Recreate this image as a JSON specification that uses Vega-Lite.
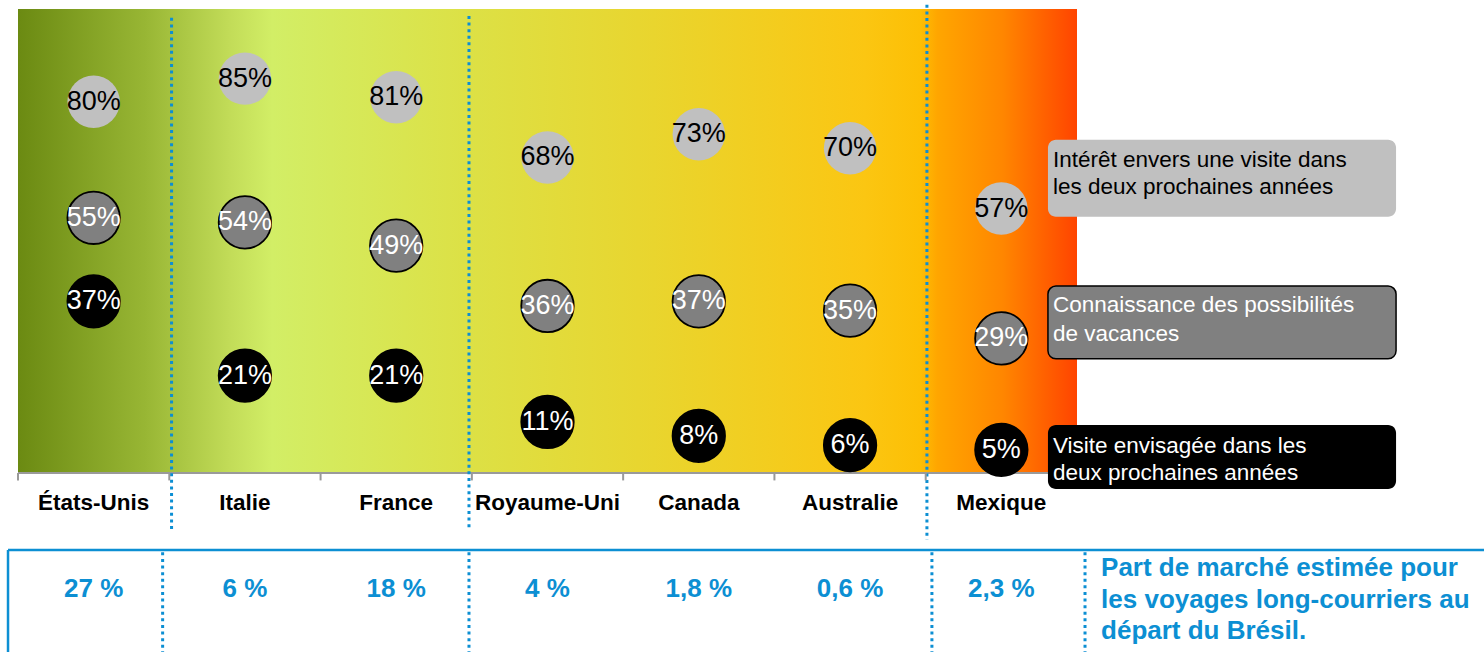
{
  "$schema": "https://vega.github.io/schema/vega-lite/v6.json",
  "width": 1059,
  "height": 464,
  "padding": {"left": 18, "top": 9, "right": 407, "bottom": 179},
  "autosize": {"type": "none"},
  "background": "#ffffff",
  "config": {"view": {"stroke": null}, "font": "Liberation Sans", "axis": {"disable": true}},
  "datasets": {
    "points": [
      {"country": "États-Unis", "serie": "interet", "value": 80},
      {"country": "États-Unis", "serie": "connaissance", "value": 55},
      {"country": "États-Unis", "serie": "visite", "value": 37},
      {"country": "Italie", "serie": "interet", "value": 85},
      {"country": "Italie", "serie": "connaissance", "value": 54},
      {"country": "Italie", "serie": "visite", "value": 21},
      {"country": "France", "serie": "interet", "value": 81},
      {"country": "France", "serie": "connaissance", "value": 49},
      {"country": "France", "serie": "visite", "value": 21},
      {"country": "Royaume-Uni", "serie": "interet", "value": 68},
      {"country": "Royaume-Uni", "serie": "connaissance", "value": 36},
      {"country": "Royaume-Uni", "serie": "visite", "value": 11},
      {"country": "Canada", "serie": "interet", "value": 73},
      {"country": "Canada", "serie": "connaissance", "value": 37},
      {"country": "Canada", "serie": "visite", "value": 8},
      {"country": "Australie", "serie": "interet", "value": 70},
      {"country": "Australie", "serie": "connaissance", "value": 35},
      {"country": "Australie", "serie": "visite", "value": 6},
      {"country": "Mexique", "serie": "interet", "value": 57},
      {"country": "Mexique", "serie": "connaissance", "value": 29},
      {"country": "Mexique", "serie": "visite", "value": 5}
    ],
    "countries": [
      {"country": "États-Unis", "share": 27},
      {"country": "Italie", "share": 6},
      {"country": "France", "share": 18},
      {"country": "Royaume-Uni", "share": 4},
      {"country": "Canada", "share": 1.8},
      {"country": "Australie", "share": 0.6},
      {"country": "Mexique", "share": 2.3}
    ],
    "legend": [
      {"serie": "interet", "label": "Intérêt envers une visite dans\nles deux prochaines années"},
      {"serie": "connaissance", "label": "Connaissance des possibilités\nde vacances"},
      {"serie": "visite", "label": "Visite envisagée dans les\ndeux prochaines années"}
    ],
    "note": [
      {"label": "Part de marché estimée pour\nles voyages long-courriers au\ndépart du Brésil."}
    ]
  },
  "layer": [
    {
      "layer": [
        {
          "data": {"values": [{}]},
          "mark": {"type": "rect", "fill": {"gradient": "linear", "x1": 0, "y1": 0, "x2": 1, "y2": 0, "stops": [
            {"offset": 0, "color": "#6b8a12"},
            {"offset": 0.12, "color": "#98b634"},
            {"offset": 0.2, "color": "#c2dc58"},
            {"offset": 0.24, "color": "#d2ee66"},
            {"offset": 0.42, "color": "#dce146"},
            {"offset": 0.6, "color": "#e9d52e"},
            {"offset": 0.8, "color": "#fbc612"},
            {"offset": 0.852, "color": "#fdbf04"},
            {"offset": 0.868, "color": "#ffa600"},
            {"offset": 0.93, "color": "#ff8600"},
            {"offset": 1, "color": "#ff4400"}
          ]}},
          "encoding": {
            "x": {"datum": 0, "type": "quantitative", "scale": {"domain": [0, 7], "nice": false, "zero": false}, "axis": null},
            "x2": {"datum": 7},
            "y": {"datum": 0, "type": "quantitative", "scale": {"domain": [0, 100], "nice": false, "zero": false}, "axis": null},
            "y2": {"datum": 100}
          }
        },
        {
          "data": {"values": [{}]},
          "mark": {"type": "rule", "color": "#9a9a9a", "strokeWidth": 2},
          "encoding": {
            "x": {"datum": 0, "type": "quantitative", "scale": {"domain": [0, 7], "nice": false, "zero": false}, "axis": null},
            "x2": {"datum": 7},
            "y": {"datum": 0, "type": "quantitative", "scale": {"domain": [0, 100], "nice": false, "zero": false}, "axis": null}
          }
        },
        {
          "data": {"values": [{}]},
          "mark": {"type": "rule", "color": "#0c8fd3", "strokeWidth": 3, "strokeDash": [3, 3.6]},
          "encoding": {
            "x": {"datum": 1.015, "type": "quantitative", "scale": {"domain": [0, 7], "nice": false, "zero": false}, "axis": null},
            "y": {"datum": 98.1, "type": "quantitative", "scale": {"domain": [0, 100], "nice": false, "zero": false}, "axis": null},
            "y2": {"datum": -12.7}
          }
        },
        {
          "data": {"values": [{}]},
          "mark": {"type": "rule", "color": "#0c8fd3", "strokeWidth": 3, "strokeDash": [3, 3.6]},
          "encoding": {
            "x": {"datum": 2.981, "type": "quantitative", "scale": {"domain": [0, 7], "nice": false, "zero": false}, "axis": null},
            "y": {"datum": 98.5, "type": "quantitative", "scale": {"domain": [0, 100], "nice": false, "zero": false}, "axis": null},
            "y2": {"datum": -12.3}
          }
        },
        {
          "data": {"values": [{}]},
          "mark": {"type": "rule", "color": "#0c8fd3", "strokeWidth": 3, "strokeDash": [3, 3.6]},
          "encoding": {
            "x": {"datum": 6.008, "type": "quantitative", "scale": {"domain": [0, 7], "nice": false, "zero": false}, "axis": null},
            "y": {"datum": 100.9, "type": "quantitative", "scale": {"domain": [0, 100], "nice": false, "zero": false}, "axis": null},
            "y2": {"datum": -14.4}
          }
        },
        {
          "data": {"values": [{}]},
          "mark": {"type": "rule", "color": "#0c8fd3", "strokeWidth": 3, "strokeDash": [3, 3.6]},
          "encoding": {
            "x": {"datum": 0.956, "type": "quantitative", "scale": {"domain": [0, 7], "nice": false, "zero": false}, "axis": null},
            "y": {"datum": -17.1, "type": "quantitative", "scale": {"domain": [0, 100], "nice": false, "zero": false}, "axis": null},
            "y2": {"datum": -38.6}
          }
        },
        {
          "data": {"values": [{}]},
          "mark": {"type": "rule", "color": "#0c8fd3", "strokeWidth": 3, "strokeDash": [3, 3.6]},
          "encoding": {
            "x": {"datum": 2.981, "type": "quantitative", "scale": {"domain": [0, 7], "nice": false, "zero": false}, "axis": null},
            "y": {"datum": -17.1, "type": "quantitative", "scale": {"domain": [0, 100], "nice": false, "zero": false}, "axis": null},
            "y2": {"datum": -38.6}
          }
        },
        {
          "data": {"values": [{}]},
          "mark": {"type": "rule", "color": "#0c8fd3", "strokeWidth": 3, "strokeDash": [3, 3.6]},
          "encoding": {
            "x": {"datum": 6.041, "type": "quantitative", "scale": {"domain": [0, 7], "nice": false, "zero": false}, "axis": null},
            "y": {"datum": -17.1, "type": "quantitative", "scale": {"domain": [0, 100], "nice": false, "zero": false}, "axis": null},
            "y2": {"datum": -38.6}
          }
        },
        {
          "data": {"values": [{}]},
          "mark": {"type": "rule", "color": "#0c8fd3", "strokeWidth": 3, "strokeDash": [3, 3.6]},
          "encoding": {
            "x": {"datum": 7.053, "type": "quantitative", "scale": {"domain": [0, 7], "nice": false, "zero": false}, "axis": null},
            "y": {"datum": -17.1, "type": "quantitative", "scale": {"domain": [0, 100], "nice": false, "zero": false}, "axis": null},
            "y2": {"datum": -38.6}
          }
        },
        {
          "data": {"values": [{}]},
          "mark": {"type": "rule", "color": "#0c8fd3", "strokeWidth": 2.5},
          "encoding": {
            "x": {"datum": -0.066, "type": "quantitative", "scale": {"domain": [0, 7], "nice": false, "zero": false}, "axis": null},
            "x2": {"datum": 9.7},
            "y": {"datum": -16.6, "type": "quantitative", "scale": {"domain": [0, 100], "nice": false, "zero": false}, "axis": null}
          }
        },
        {
          "data": {"values": [{}]},
          "mark": {"type": "rule", "color": "#0c8fd3", "strokeWidth": 2.5},
          "encoding": {
            "x": {"datum": -0.066, "type": "quantitative", "scale": {"domain": [0, 7], "nice": false, "zero": false}, "axis": null},
            "y": {"datum": -16.6, "type": "quantitative", "scale": {"domain": [0, 100], "nice": false, "zero": false}, "axis": null},
            "y2": {"datum": -38.6}
          }
        },
        {
          "data": {"name": "legend"},
          "transform": [{"filter": "datum.serie === 'interet'"}],
          "layer": [
            {
              "mark": {"type": "rect", "cornerRadius": 8, "strokeWidth": 1.5},
              "encoding": {
                "x": {"datum": 6.808, "type": "quantitative", "scale": {"domain": [0, 7], "nice": false, "zero": false}, "axis": null},
                "x2": {"datum": 9.109},
                "y": {"datum": 71.8, "type": "quantitative", "scale": {"domain": [0, 100], "nice": false, "zero": false}, "axis": null},
                "y2": {"datum": 55.2},
                "color": {"field": "serie", "type": "nominal", "scale": {"domain": ["interet", "connaissance", "visite"], "range": ["#c0c0c0", "#808080", "#000000"]}, "legend": null}
              }
            },
            {
              "mark": {"type": "text", "align": "left", "baseline": "middle", "fontSize": 22.5, "lineHeight": 27, "lineBreak": "\n", "color": "#000000"},
              "encoding": {
                "x": {"datum": 6.841, "type": "quantitative", "scale": {"domain": [0, 7], "nice": false, "zero": false}, "axis": null},
                "y": {"datum": 67.5, "type": "quantitative", "scale": {"domain": [0, 100], "nice": false, "zero": false}, "axis": null},
                "text": {"field": "label", "type": "nominal"}
              }
            }
          ]
        },
        {
          "data": {"name": "legend"},
          "transform": [{"filter": "datum.serie === 'connaissance'"}],
          "layer": [
            {
              "mark": {"type": "rect", "cornerRadius": 8, "strokeWidth": 1.5, "stroke": "#000000"},
              "encoding": {
                "x": {"datum": 6.808, "type": "quantitative", "scale": {"domain": [0, 7], "nice": false, "zero": false}, "axis": null},
                "x2": {"datum": 9.109},
                "y": {"datum": 40.3, "type": "quantitative", "scale": {"domain": [0, 100], "nice": false, "zero": false}, "axis": null},
                "y2": {"datum": 24.6},
                "color": {"field": "serie", "type": "nominal", "scale": {"domain": ["interet", "connaissance", "visite"], "range": ["#c0c0c0", "#808080", "#000000"]}, "legend": null}
              }
            },
            {
              "mark": {"type": "text", "align": "left", "baseline": "middle", "fontSize": 22.5, "lineHeight": 29, "lineBreak": "\n", "color": "#ffffff"},
              "encoding": {
                "x": {"datum": 6.841, "type": "quantitative", "scale": {"domain": [0, 7], "nice": false, "zero": false}, "axis": null},
                "y": {"datum": 36.2, "type": "quantitative", "scale": {"domain": [0, 100], "nice": false, "zero": false}, "axis": null},
                "text": {"field": "label", "type": "nominal"}
              }
            }
          ]
        },
        {
          "data": {"name": "legend"},
          "transform": [{"filter": "datum.serie === 'visite'"}],
          "layer": [
            {
              "mark": {"type": "rect", "cornerRadius": 8},
              "encoding": {
                "x": {"datum": 6.808, "type": "quantitative", "scale": {"domain": [0, 7], "nice": false, "zero": false}, "axis": null},
                "x2": {"datum": 9.109},
                "y": {"datum": 10.35, "type": "quantitative", "scale": {"domain": [0, 100], "nice": false, "zero": false}, "axis": null},
                "y2": {"datum": -3.45},
                "color": {"field": "serie", "type": "nominal", "scale": {"domain": ["interet", "connaissance", "visite"], "range": ["#c0c0c0", "#808080", "#000000"]}, "legend": null}
              }
            },
            {
              "mark": {"type": "text", "align": "left", "baseline": "middle", "fontSize": 22.5, "lineHeight": 27, "lineBreak": "\n", "color": "#ffffff"},
              "encoding": {
                "x": {"datum": 6.841, "type": "quantitative", "scale": {"domain": [0, 7], "nice": false, "zero": false}, "axis": null},
                "y": {"datum": 5.8, "type": "quantitative", "scale": {"domain": [0, 100], "nice": false, "zero": false}, "axis": null},
                "text": {"field": "label", "type": "nominal"}
              }
            }
          ]
        },
        {
          "data": {"name": "note"},
          "mark": {"type": "text", "align": "left", "baseline": "middle", "fontSize": 26, "fontWeight": "bold", "lineHeight": 31.5, "lineBreak": "\n", "color": "#0c8fd3"},
          "encoding": {
            "x": {"datum": 7.159, "type": "quantitative", "scale": {"domain": [0, 7], "nice": false, "zero": false}, "axis": null},
            "y": {"datum": -20.5, "type": "quantitative", "scale": {"domain": [0, 100], "nice": false, "zero": false}, "axis": null},
            "text": {"field": "label", "type": "nominal"}
          }
        }
      ]
    },
    {
      "layer": [
        {
          "data": {"name": "countries"},
          "mark": {"type": "rule", "color": "#9a9a9a", "strokeWidth": 2},
          "encoding": {
            "x": {"field": "country", "type": "nominal", "bandPosition": 0, "sort": null, "scale": {"type": "band", "domain": ["États-Unis", "Italie", "France", "Royaume-Uni", "Canada", "Australie", "Mexique"], "paddingInner": 0, "paddingOuter": 0}, "axis": null},
            "y": {"datum": 0, "type": "quantitative", "scale": {"domain": [0, 100], "nice": false, "zero": false}, "axis": null},
            "y2": {"datum": -1.6}
          }
        },
        {
          "data": {"name": "points"},
          "mark": {"type": "point", "filled": true, "opacity": 1, "size": 2750, "strokeWidth": 1.8},
          "encoding": {
            "x": {"field": "country", "type": "nominal", "sort": null, "scale": {"type": "band", "domain": ["États-Unis", "Italie", "France", "Royaume-Uni", "Canada", "Australie", "Mexique"], "paddingInner": 0, "paddingOuter": 0}, "axis": null},
            "y": {"field": "value", "type": "quantitative", "scale": {"domain": [0, 100], "nice": false, "zero": false}, "axis": null},
            "color": {"field": "serie", "type": "nominal", "scale": {"domain": ["interet", "connaissance", "visite"], "range": ["#c0c0c0", "#808080", "#000000"]}, "legend": null},
            "stroke": {"condition": {"test": "datum.serie !== 'interet'", "value": "#000000"}, "value": "transparent"}
          }
        },
        {
          "data": {"name": "points"},
          "transform": [{"calculate": "datum.value + '%'", "as": "label"}],
          "mark": {"type": "text", "fontSize": 27, "baseline": "middle", "align": "center"},
          "encoding": {
            "x": {"field": "country", "type": "nominal", "sort": null, "scale": {"type": "band", "domain": ["États-Unis", "Italie", "France", "Royaume-Uni", "Canada", "Australie", "Mexique"], "paddingInner": 0, "paddingOuter": 0}, "axis": null},
            "y": {"field": "value", "type": "quantitative", "scale": {"domain": [0, 100], "nice": false, "zero": false}, "axis": null},
            "text": {"field": "label", "type": "nominal"},
            "fill": {"condition": {"test": "datum.serie === 'interet'", "value": "#000000"}, "value": "#ffffff"}
          }
        },
        {
          "data": {"name": "countries"},
          "mark": {"type": "text", "fontSize": 22.5, "fontWeight": "bold", "baseline": "middle", "align": "center", "color": "#000000"},
          "encoding": {
            "x": {"field": "country", "type": "nominal", "sort": null, "scale": {"type": "band", "domain": ["États-Unis", "Italie", "France", "Royaume-Uni", "Canada", "Australie", "Mexique"], "paddingInner": 0, "paddingOuter": 0}, "axis": null},
            "y": {"datum": -6.5, "type": "quantitative", "scale": {"domain": [0, 100], "nice": false, "zero": false}, "axis": null},
            "text": {"field": "country", "type": "nominal"}
          }
        },
        {
          "data": {"name": "countries"},
          "transform": [{"calculate": "replace(format(datum.share, '~g'), '.', ',') + ' %'", "as": "label"}],
          "mark": {"type": "text", "fontSize": 26, "fontWeight": "bold", "baseline": "middle", "align": "center", "color": "#0c8fd3"},
          "encoding": {
            "x": {"field": "country", "type": "nominal", "sort": null, "scale": {"type": "band", "domain": ["États-Unis", "Italie", "France", "Royaume-Uni", "Canada", "Australie", "Mexique"], "paddingInner": 0, "paddingOuter": 0}, "axis": null},
            "y": {"datum": -25, "type": "quantitative", "scale": {"domain": [0, 100], "nice": false, "zero": false}, "axis": null},
            "text": {"field": "label", "type": "nominal"}
          }
        }
      ]
    }
  ],
  "resolve": {"scale": {"x": "independent"}}
}
